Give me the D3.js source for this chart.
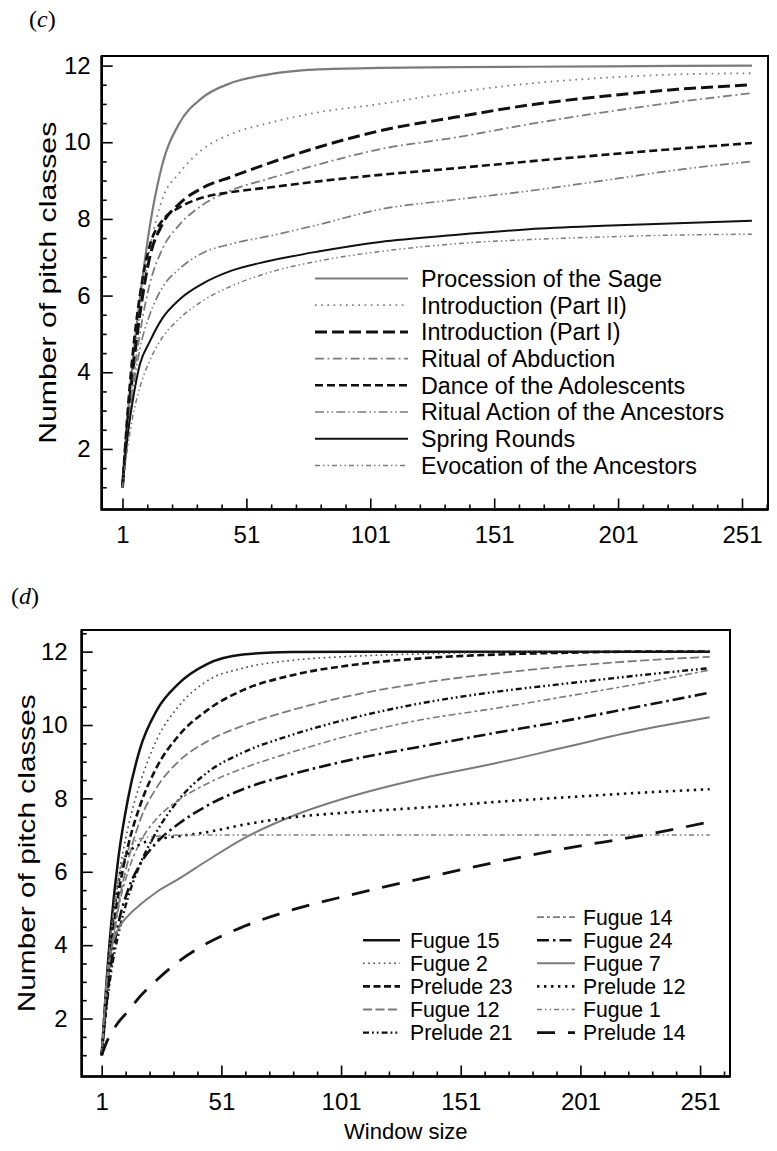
<!DOCTYPE html>
<html>
<head>
<meta charset="utf-8">
<script src="https://cdn.jsdelivr.net/npm/d3@7"></script>
<style>
body { margin: 0; background: #fff; }
svg { display: block; }
text { font-family: "Liberation Sans", Arial, sans-serif; fill: #000; }
</style>
</head>
<body>
<div id="chart_area"></div>
<script>
var width = 777
var height = 1151

// Panel (c) data
var windowC = [1, 3, 5, 8, 12, 17, 24, 33, 45, 60, 80, 105, 135, 165, 195, 225, 255]
var namesC = ["Procession of the Sage", "Introduction (Part II)", "Introduction (Part I)",
  "Ritual of Abduction", "Dance of the Adolescents", "Ritual Action of the Ancestors",
  "Spring Rounds", "Evocation of the Ancestors"]
var procession   = [1, 2.8, 4.2, 5.9, 7.8, 9.4, 10.5, 11.15, 11.55, 11.77, 11.9, 11.94, 11.96, 11.97, 11.98, 11.99, 12]
var introII      = [1, 2.5, 3.8, 5.5, 7.2, 8.5, 9.2, 9.8, 10.22, 10.5, 10.78, 11.0, 11.3, 11.53, 11.68, 11.77, 11.8]
var introI       = [1, 2.6, 3.9, 5.5, 7.0, 7.85, 8.4, 8.8, 9.1, 9.45, 9.87, 10.3, 10.65, 10.97, 11.2, 11.38, 11.5]
var abduction    = [1, 2.4, 3.6, 5.0, 6.3, 7.2, 7.85, 8.35, 8.75, 9.05, 9.42, 9.82, 10.12, 10.47, 10.78, 11.05, 11.28]
var dance        = [1, 2.9, 4.4, 6.0, 7.3, 7.95, 8.3, 8.55, 8.7, 8.82, 8.98, 9.15, 9.32, 9.5, 9.67, 9.83, 9.98]
var ritualAction = [1, 2.3, 3.4, 4.6, 5.5, 6.2, 6.7, 7.1, 7.35, 7.55, 7.85, 8.25, 8.5, 8.73, 9.0, 9.28, 9.5]
var springRounds = [1, 2.3, 3.2, 4.2, 4.8, 5.4, 5.9, 6.3, 6.65, 6.9, 7.15, 7.4, 7.58, 7.73, 7.82, 7.89, 7.95]
var evocation    = [1, 2.0, 2.8, 3.6, 4.3, 4.9, 5.4, 5.85, 6.25, 6.6, 6.9, 7.15, 7.35, 7.46, 7.53, 7.58, 7.6]
var seriesC = [procession, introII, introI, abduction, dance, ritualAction, springRounds, evocation]

// Panel (d) data
var windowD = [1, 3, 5, 8, 12, 17, 24, 33, 45, 60, 80, 105, 135, 165, 195, 225, 255]
var namesD = ["Fugue 15", "Fugue 2", "Prelude 23", "Fugue 12", "Prelude 21",
  "Fugue 14", "Fugue 24", "Fugue 7", "Prelude 12", "Fugue 1", "Prelude 14"]
var fugue15   = [1, 3.0, 4.6, 6.4, 8.0, 9.35, 10.4, 11.12, 11.66, 11.92, 11.99, 12, 12, 12, 12, 12, 12]
var fugue2    = [1, 2.8, 4.2, 5.8, 7.2, 8.4, 9.6, 10.5, 11.2, 11.55, 11.76, 11.87, 11.94, 11.98, 12, 12, 12]
var prelude23 = [1, 2.7, 4.0, 5.4, 6.7, 7.8, 8.85, 9.7, 10.4, 10.95, 11.35, 11.63, 11.82, 11.92, 11.97, 12, 12]
var fugue12   = [1, 2.6, 3.8, 5.1, 6.3, 7.4, 8.3, 9.0, 9.55, 9.98, 10.4, 10.8, 11.15, 11.4, 11.6, 11.75, 11.86]
var prelude21 = [1, 2.3, 3.3, 4.3, 5.3, 6.2, 7.1, 7.95, 8.7, 9.25, 9.72, 10.18, 10.6, 10.9, 11.13, 11.35, 11.55]
var fugue14   = [1, 2.5, 3.7, 5.0, 6.0, 6.8, 7.45, 7.95, 8.4, 8.82, 9.25, 9.72, 10.15, 10.45, 10.78, 11.12, 11.5]
var fugue24   = [1, 2.4, 3.5, 4.6, 5.5, 6.2, 6.8, 7.3, 7.8, 8.25, 8.65, 9.05, 9.42, 9.78, 10.12, 10.5, 10.88]
var fugue7    = [1, 3.0, 3.9, 4.45, 4.8, 5.1, 5.45, 5.8, 6.3, 6.9, 7.5, 8.05, 8.55, 8.95, 9.4, 9.85, 10.21]
var prelude12 = [1, 2.8, 4.2, 5.7, 6.5, 6.75, 6.88, 6.97, 7.08, 7.28, 7.48, 7.62, 7.75, 7.9, 8.03, 8.15, 8.25]
var fugue1    = [1, 2.9, 4.4, 5.8, 6.6, 6.9, 6.97, 7, 7, 7, 7, 7, 7, 7, 7, 7, 7]
var prelude14 = [1, 1.35, 1.6, 1.9, 2.2, 2.6, 3.05, 3.55, 4.05, 4.5, 4.95, 5.37, 5.82, 6.25, 6.64, 6.97, 7.36]
var seriesD = [fugue15, fugue2, prelude23, fugue12, prelude21, fugue14, fugue24, fugue7, prelude12, fugue1, prelude14]

// Axis ticks
var xMajorTicks = [1, 51, 101, 151, 201, 251]
var yMajorTicks = [2, 4, 6, 8, 10, 12]

var gray = "#7b7b7b"
var black = "#111"

var stylesC = [
  {color: gray, w: 2.2, dash: null},
  {color: gray, w: 1.8, dash: "1.6,4.6"},
  {color: black, w: 3, dash: "12,5"},
  {color: gray, w: 1.8, dash: "9,3.5,1.8,3.5"},
  {color: black, w: 2.6, dash: "8,4"},
  {color: gray, w: 1.7, dash: "9,3,1.6,3,1.6,3"},
  {color: black, w: 2, dash: null},
  {color: gray, w: 1.5, dash: "5,3,1.5,3,1.5,3"}
]
var stylesD = [
  {color: black, w: 2.5, dash: null},
  {color: "#444", w: 1.6, dash: "1.6,3.6"},
  {color: black, w: 2.6, dash: "7,3.5"},
  {color: gray, w: 1.8, dash: "9,3.5"},
  {color: black, w: 2.4, dash: "6,3,1.8,3,1.8,3"},
  {color: gray, w: 1.6, dash: "7,3,3,3"},
  {color: black, w: 2.6, dash: "12,4,2.5,4"},
  {color: gray, w: 2, dash: null},
  {color: black, w: 2.6, dash: "2.4,4.6"},
  {color: gray, w: 1.5, dash: "5,3,1.6,3,1.6,3"},
  {color: black, w: 2.8, dash: "18,13"}
]

var svg = d3.select("#chart_area")
  .append("svg")
  .attr("width", width)
  .attr("height", height)

drawPanel({
  label: "c", labelX: 29, labelY: 27,
  left: 101.7, top: 56, right: 768, bottom: 509.5,
  xDomain: [-7.39, 261.5], yDomain: [0.42, 12.25], yPad: 11,
  titleX: 56, titleLen: 322, xTitle: null,
  xs: windowC, series: seriesC, names: namesC, styles: stylesC,
  legend: [{x0: 315, x1: 408, tx: 421, y0: 278.5, dy: 26.7, from: 0, to: 8}],
  legendFont: 23.3
})

drawPanel({
  label: "d", labelX: 11, labelY: 604,
  left: 81.7, top: 630, right: 730, bottom: 1076.5,
  xDomain: [-7.36, 263.5], yDomain: [0.42, 12.59], yPad: 14,
  titleX: 35, titleLen: 318, xTitle: "Window size",
  xs: windowD, series: seriesD, names: namesD, styles: stylesD,
  legend: [
    {x0: 363, x1: 400, tx: 410, y0: 940.2, dy: 23.1, from: 0, to: 5},
    {x0: 537, x1: 575, tx: 583, y0: 917.1, dy: 23.1, from: 5, to: 11}
  ],
  legendFont: 21.2
})

function drawPanel (p) {
  var g = svg.append("g")

  var x = d3.scaleLinear().domain(p.xDomain).range([p.left, p.right])
  var y = d3.scaleLinear().domain(p.yDomain).range([p.bottom, p.top])

  // panel label
  var lab = g.append("text")
    .attr("x", p.labelX)
    .attr("y", p.labelY)
    .style("font-family", "'Liberation Serif', 'DejaVu Serif', serif")
    .style("font-size", "24px")
  lab.append("tspan").text("(")
  lab.append("tspan").style("font-style", "italic").text(p.label)
  lab.append("tspan").text(")")

  // curves
  var line = d3.line()
    .x((d, i) => x(p.xs[i]))
    .y(d => y(d))
    .curve(d3.curveMonotoneX)

  p.series.forEach((s, i) => {
    var st = p.styles[i]
    g.append("path")
      .attr("d", line(s))
      .attr("fill", "none")
      .attr("stroke", st.color)
      .attr("stroke-width", st.w)
      .attr("stroke-dasharray", st.dash)
  })

  // minor ticks
  var xMinor = d3.range(11, p.xDomain[1], 10).filter(v => xMajorTicks.indexOf(v) < 0)
  var yMinor = d3.range(1, p.yDomain[1], 0.5).filter(v => yMajorTicks.indexOf(v) < 0)

  g.append("g")
    .attr("transform", "translate(0," + p.bottom + ")")
    .call(d3.axisBottom(x).tickValues(xMinor).tickSize(-5).tickFormat(""))
    .call(a => a.select(".domain").remove())
  g.append("g")
    .attr("transform", "translate(" + p.left + ",0)")
    .call(d3.axisLeft(y).tickValues(yMinor).tickSize(-5).tickFormat(""))
    .call(a => a.select(".domain").remove())

  // major ticks with labels
  var xa = g.append("g")
    .attr("transform", "translate(0," + p.bottom + ")")
    .call(d3.axisBottom(x).tickValues(xMajorTicks).tickSize(-11).tickPadding(16))
  var ya = g.append("g")
    .attr("transform", "translate(" + p.left + ",0)")
    .call(d3.axisLeft(y).tickValues(yMajorTicks).tickSize(-11).tickPadding(p.yPad))
  ;[xa, ya].forEach(a => {
    a.select(".domain").remove()
    a.selectAll("text").style("font-size", "24px").style("font-family", "'Liberation Sans', Arial, sans-serif")
  })
  g.selectAll(".tick line").attr("stroke", "#000").attr("stroke-width", 1.6)

  // frame
  g.append("rect")
    .attr("x", p.left)
    .attr("y", p.top)
    .attr("width", p.right - p.left)
    .attr("height", p.bottom - p.top)
    .attr("fill", "none")
    .attr("stroke", "#000")
    .attr("stroke-width", 2)
  g.append("path")
    .attr("d", "M" + p.left + "," + p.top + "V" + p.bottom + "H" + p.right)
    .attr("fill", "none")
    .attr("stroke", "#000")
    .attr("stroke-width", 2.6)

  // axis titles
  g.append("text")
    .attr("transform", "translate(" + p.titleX + "," + (p.top + p.bottom) / 2 + ") rotate(-90)")
    .attr("text-anchor", "middle")
    .attr("textLength", p.titleLen)
    .attr("lengthAdjust", "spacingAndGlyphs")
    .style("font-size", "24px")
    .text("Number of pitch classes")

  if (p.xTitle) {
    g.append("text")
      .attr("x", (p.left + p.right) / 2)
      .attr("y", 1139)
      .attr("text-anchor", "middle")
      .style("font-size", "22px")
      .text(p.xTitle)
  }

  // legend
  p.legend.forEach(col => {
    for (var k = col.from; k < col.to; k++) {
      var st = p.styles[k]
      var ly = col.y0 + (k - col.from) * col.dy
      g.append("line")
        .attr("x1", col.x0).attr("x2", col.x1)
        .attr("y1", ly).attr("y2", ly)
        .attr("stroke", st.color)
        .attr("stroke-width", st.w)
        .attr("stroke-dasharray", st.dash)
      g.append("text")
        .attr("x", col.tx)
        .attr("y", ly)
        .attr("dy", "0.36em")
        .style("font-size", p.legendFont + "px")
        .text(p.names[k])
    }
  })
}
</script>
</body>
</html>
